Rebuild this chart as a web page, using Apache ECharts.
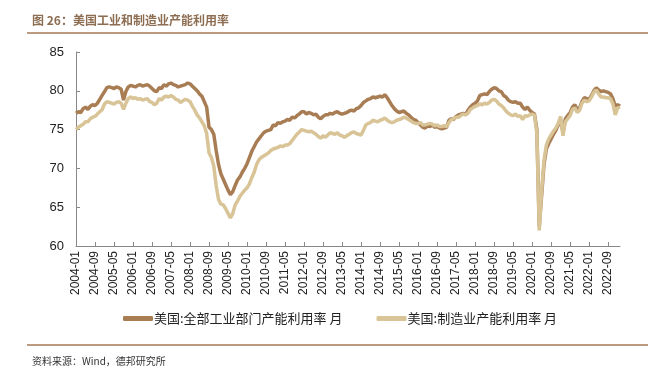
<!DOCTYPE html>
<html>
<head>
<meta charset="utf-8">
<style>
  html, body { margin: 0; padding: 0; background: #fff; }
  #main { width: 654px; height: 368px; }
</style>
</head>
<body>
<div id="main"></div>
<script src="https://cdn.jsdelivr.net/npm/echarts@6/dist/echarts.min.js"></script>
<script>
// months 2004-01 .. 2023-02
var months = [];
for (var y = 2004; y <= 2023; y++) {
  for (var m = 1; m <= 12; m++) {
    if (y === 2023 && m > 2) break;
    months.push(y + '-' + (m < 10 ? '0' + m : m));
  }
}

// 美国:全部工业部门产能利用率 月
var totalIndustry = [
  77.1, 77.3, 77.2, 77.7, 77.9, 77.6, 78.0, 78.2, 78.1, 78.4, 78.9, 79.4, // 2004
  79.9, 80.4, 80.5, 80.4, 80.3, 80.5, 80.4, 80.2, 78.8, 79.9, 80.5, 80.7, // 2005
  80.6, 80.5, 80.7, 80.8, 80.6, 80.7, 80.8, 80.6, 80.3, 80.0, 79.9, 80.4, // 2006
  80.3, 80.8, 80.6, 80.9, 81.0, 80.8, 80.7, 80.5, 80.6, 80.7, 80.8, 81.0, // 2007
  80.9, 80.6, 80.3, 80.0, 79.6, 79.3, 78.6, 77.9, 75.3, 75.0, 74.4, 72.3, // 2008
  70.5, 69.3, 68.6, 67.9, 67.2, 66.6, 67.0, 67.8, 68.5, 68.9, 69.5, 70.0, // 2009
  70.6, 71.4, 72.2, 72.8, 73.4, 73.8, 74.2, 74.6, 74.8, 74.9, 75.0, 75.6, // 2010
  75.5, 75.9, 75.8, 76.0, 76.1, 76.3, 76.2, 76.6, 76.5, 76.8, 77.0, 77.3, // 2011
  77.3, 77.0, 77.2, 77.1, 76.9, 77.0, 76.6, 76.4, 76.7, 76.9, 76.9, 77.1, // 2012
  77.0, 77.2, 77.3, 77.1, 77.0, 77.1, 77.2, 77.4, 77.5, 77.4, 77.7, 77.8, // 2013
  78.1, 78.5, 78.7, 78.9, 79.0, 79.2, 79.1, 79.2, 79.3, 79.2, 79.5, 79.1, // 2014
  78.6, 78.1, 77.7, 77.4, 77.2, 77.3, 77.4, 77.1, 76.9, 76.6, 76.3, 76.2, // 2015
  75.9, 75.6, 75.3, 75.2, 75.5, 75.4, 75.6, 75.3, 75.4, 75.2, 75.1, 75.2, // 2016
  75.3, 76.2, 76.4, 76.3, 76.7, 76.9, 77.0, 77.1, 76.9, 77.5, 77.9, 78.2, // 2017
  78.4, 78.7, 79.4, 79.5, 79.6, 79.5, 79.9, 80.2, 80.4, 80.3, 80.0, 79.9, // 2018
  79.4, 79.2, 78.8, 78.6, 78.5, 78.6, 78.4, 78.4, 77.9, 77.6, 77.9, 77.5, // 2019
  77.2, 77.0, 75.0, 62.5, 66.5, 70.5, 72.5, 73.2, 73.8, 74.4, 74.9, 75.6, // 2020
  76.3, 74.6, 76.4, 76.8, 77.2, 77.9, 78.2, 77.6, 77.8, 78.6, 79.1, 79.0, // 2021
  78.9, 79.4, 80.0, 80.4, 80.1, 79.9, 80.0, 79.9, 79.8, 79.6, 79.0, 78.0, // 2022
  78.2, 78.0                                                              // 2023
];

// 美国:制造业产能利用率 月
var manufacturing = [
  75.0, 75.3, 75.5, 75.7, 76.0, 76.0, 76.4, 76.6, 76.7, 77.0, 77.3, 77.6, // 2004
  78.3, 78.6, 78.5, 78.4, 78.3, 78.5, 78.6, 78.4, 77.6, 78.4, 79.0, 79.2, // 2005
  79.0, 79.1, 78.9, 79.0, 78.8, 78.9, 79.0, 78.6, 78.5, 78.2, 78.4, 79.0, // 2006
  78.8, 79.2, 79.3, 79.2, 79.4, 79.2, 78.9, 78.8, 78.5, 78.7, 78.9, 78.8, // 2007
  78.6, 78.0, 77.5, 76.9, 76.5, 76.0, 75.5, 74.5, 72.0, 71.4, 70.3, 67.8, // 2008
  66.0, 65.4, 65.3, 64.8, 64.2, 63.6, 64.2, 65.3, 65.8, 66.4, 66.8, 67.2, // 2009
  67.5, 68.0, 68.8, 69.5, 70.5, 71.1, 71.4, 71.6, 71.8, 72.0, 72.3, 72.5, // 2010
  72.6, 72.7, 72.9, 72.8, 73.0, 73.0, 73.2, 73.6, 74.0, 74.4, 74.7, 75.0, // 2011
  74.9, 74.8, 74.7, 74.8, 74.6, 74.4, 74.1, 73.9, 74.2, 74.0, 74.3, 74.6, // 2012
  74.5, 74.4, 74.6, 74.3, 74.2, 74.0, 74.2, 74.4, 74.6, 74.7, 74.5, 74.4, // 2013
  74.3, 74.9, 75.6, 75.8, 75.9, 76.2, 76.1, 76.0, 76.2, 76.3, 76.5, 76.2, // 2014
  76.0, 75.9, 76.0, 76.2, 76.3, 76.4, 76.6, 76.5, 76.3, 76.1, 75.9, 75.8, // 2015
  75.8, 75.9, 75.6, 75.6, 75.7, 75.8, 75.7, 75.5, 75.6, 75.4, 75.4, 75.5, // 2016
  75.4, 75.9, 76.3, 76.4, 76.6, 76.6, 76.8, 77.0, 76.9, 77.1, 77.6, 77.8, // 2017
  78.0, 78.1, 78.3, 78.2, 78.4, 78.3, 78.5, 78.8, 78.9, 78.7, 78.3, 78.1, // 2018
  77.8, 77.4, 77.1, 76.9, 76.8, 77.0, 76.7, 76.8, 76.3, 76.8, 76.7, 76.9, // 2019
  77.0, 76.9, 74.5, 62.0, 67.0, 71.0, 73.0, 73.8, 74.3, 74.8, 75.2, 75.8, // 2020
  76.7, 74.2, 76.0, 76.4, 76.8, 77.6, 77.8, 77.2, 77.5, 78.4, 78.8, 78.6, // 2021
  78.7, 79.2, 79.8, 80.1, 79.6, 79.2, 79.2, 79.1, 79.1, 79.0, 78.3, 76.9, // 2022
  77.8, 77.9                                                              // 2023
];

var seriesNames = ['美国:全部工业部门产能利用率 月', '美国:制造业产能利用率 月'];
var seriesColors = ['#A87D54', '#D8C497'];

var myChart = echarts.init(document.getElementById('main'));

myChart.setOption({
  animation: false,
  title: [
    {
      text: '图 26：美国工业和制造业产能利用率',
      left: 27,
      top: 9,
      textStyle: {
        fontFamily: 'Noto Sans CJK SC',
        fontSize: 12,
        fontWeight: 'bold',
        color: '#8E6E53'
      }
    },
    {
      text: '资料来源：Wind，德邦研究所',
      left: 27,
      top: 351,
      textStyle: {
        fontFamily: 'Noto Sans CJK SC',
        fontSize: 10,
        fontWeight: 'normal',
        color: '#333'
      }
    }
  ],
  graphic: [
    {
      type: 'line',
      shape: { x1: 27, y1: 33, x2: 648, y2: 33 },
      style: { stroke: '#A77A57', lineWidth: 1.5 }
    },
    {
      type: 'line',
      shape: { x1: 27, y1: 345, x2: 648, y2: 345 },
      style: { stroke: '#A77A57', lineWidth: 1.5 }
    }
  ],
  legend: {
    bottom: 38,
    left: 118,
    itemGap: 34,
    itemWidth: 30,
    itemHeight: 5,
    icon: 'roundRect',
    data: seriesNames,
    textStyle: {
      fontFamily: 'Noto Sans CJK SC',
      fontSize: 13,
      color: '#222',
      padding: [0, 0, 0, -4]
    }
  },
  grid: {
    left: 76,
    right: 34,
    top: 52,
    bottom: 122
  },
  xAxis: {
    type: 'category',
    data: months,
    boundaryGap: false,
    axisLine: { lineStyle: { color: '#888' } },
    axisTick: {
      inside: true,
      length: 4,
      interval: 7,
      lineStyle: { color: '#888' }
    },
    axisLabel: {
      interval: 7,
      rotate: 90,
      margin: 5,
      fontFamily: 'Liberation Sans',
      fontSize: 12,
      color: '#222'
    },
    splitLine: { show: false }
  },
  yAxis: {
    type: 'value',
    min: 60,
    max: 85,
    interval: 5,
    axisLine: { show: true, lineStyle: { color: '#888' } },
    axisTick: {
      show: true,
      inside: true,
      length: 4,
      lineStyle: { color: '#888' }
    },
    axisLabel: {
      margin: 12,
      fontFamily: 'Liberation Sans',
      fontSize: 13,
      color: '#222'
    },
    splitLine: { show: false }
  },
  series: [
    {
      name: seriesNames[0],
      type: 'line',
      data: totalIndustry,
      symbol: 'none',
      lineStyle: { width: 3.5, color: seriesColors[0] },
      itemStyle: { color: seriesColors[0] }
    },
    {
      name: seriesNames[1],
      type: 'line',
      data: manufacturing,
      symbol: 'none',
      lineStyle: { width: 3.5, color: seriesColors[1] },
      itemStyle: { color: seriesColors[1] }
    }
  ]
});
</script>
</body>
</html>
